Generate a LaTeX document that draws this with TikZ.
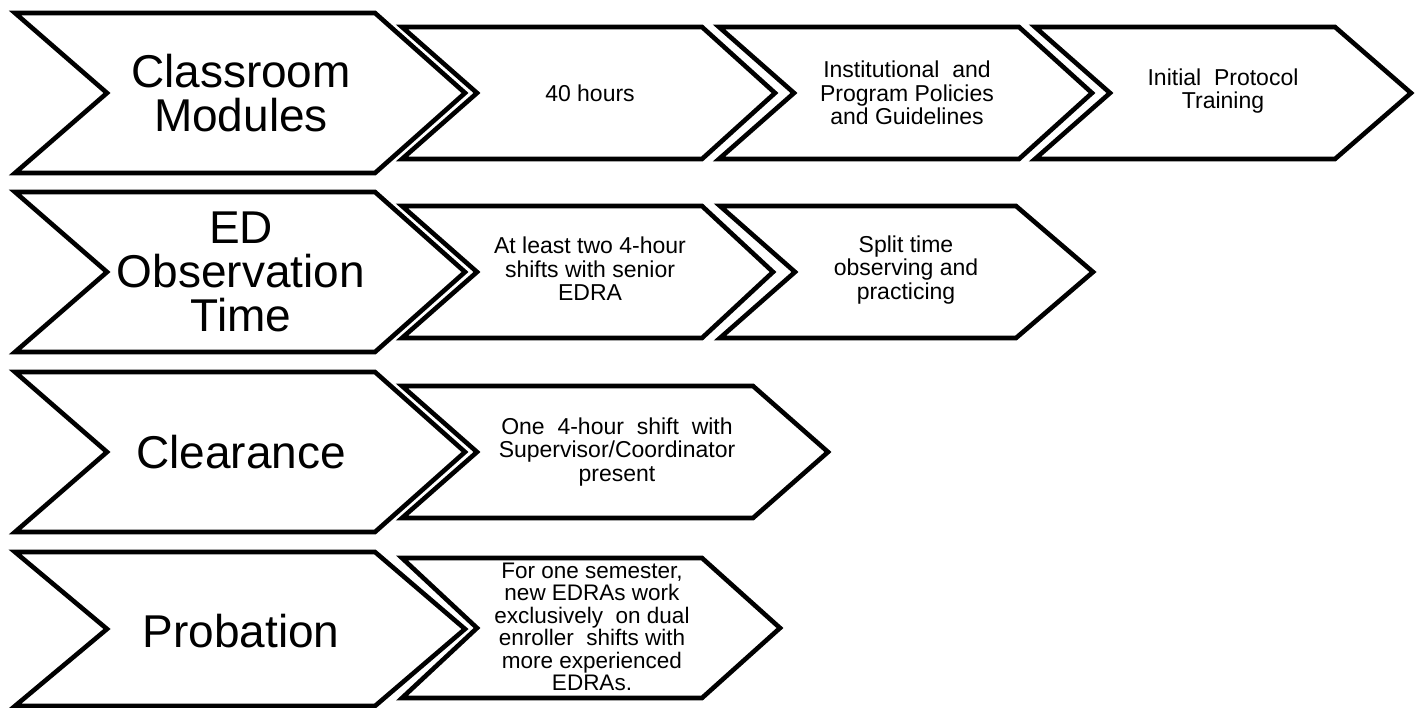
\documentclass[tikz,border=0pt]{standalone}
\usepackage{fontspec}
\setmainfont{Liberation Sans}
% chevron outline: left x, centre y, half height, shoulder offset, tip offset, notch depth
\newcommand\chevronpath[6]{%
  \filldraw[chev] (#1,#2-#3) -- (#1+#4,#2-#3) -- (#1+#5,#2)
    -- (#1+#4,#2+#3) -- (#1,#2+#3) -- (#1+#6,#2) -- cycle;}
\begin{document}
\begin{tikzpicture}[x=1pt,y=-1pt,
  chev/.style={fill=white,draw=black,line width=4.6pt,line join=miter},
  bigtxt/.style={font=\fontsize{46}{44}\selectfont,align=center,inner sep=0pt},
  smalltxt/.style={font=\fontsize{23}{23.5}\selectfont,align=center,inner sep=0pt},
  densetxt/.style={font=\fontsize{22.5}{22.5}\selectfont,align=center,inner sep=0pt}]
\useasboundingbox[fill=white] (0,0) rectangle (1417,708);
\clip (0,0) rectangle (1417,708);

% stage headers (large chevrons)
\chevronpath{15}{93}{80}{360}{450}{92}
\chevronpath{15}{272}{80}{360}{450}{92}
\chevronpath{15}{452}{80}{360}{450}{92}
\chevronpath{15}{629}{77}{360}{450}{92}

% row 1 steps
\chevronpath{402}{93}{66}{300}{373}{75}
\chevronpath{719}{93}{66}{300}{373}{75}
\chevronpath{1035}{93}{66}{300}{376}{75}
% row 2 steps
\chevronpath{402}{272}{66}{300}{371}{75}
\chevronpath{720}{272}{66}{296}{373}{75}
% row 3 step
\chevronpath{402}{452}{66}{351}{426}{75}
% row 4 step
\chevronpath{402}{628}{70}{300}{378}{75}

% header labels
\node[bigtxt] (classroom) at (241,93) {Classroom\\Modules};
\node[bigtxt] (observation) at (241,272) {ED\\Observation\\Time};
\node[bigtxt] (clearance) at (241,452) {Clearance};
\node[bigtxt] (probation) at (241,631) {Probation};

% step labels
\node[smalltxt] (hours) at (590,93) {40 hours};
\node[smalltxt] (policies) at (907,93) {Institutional\ \ and\\Program Policies\\and Guidelines};
\node[smalltxt] (protocol) at (1223,91) {Initial\ \ Protocol\\Training};
\node[smalltxt] (shifts) at (590,269) {At least two 4-hour\\shifts with senior\\EDRA};
\node[smalltxt] (split) at (906,270) {Split time\\observing and\\practicing};
\node[smalltxt] (supervisor) at (617,452) {One\ \ 4-hour\ \ shift\ \ with\\Supervisor/Coordinator\\present};
\node[densetxt] (semester) at (592,627) {For one semester,\\new EDRAs work\\exclusively\ \ on dual\\enroller\ \ shifts with\\more experienced\\EDRAs.};
\end{tikzpicture}
\end{document}
